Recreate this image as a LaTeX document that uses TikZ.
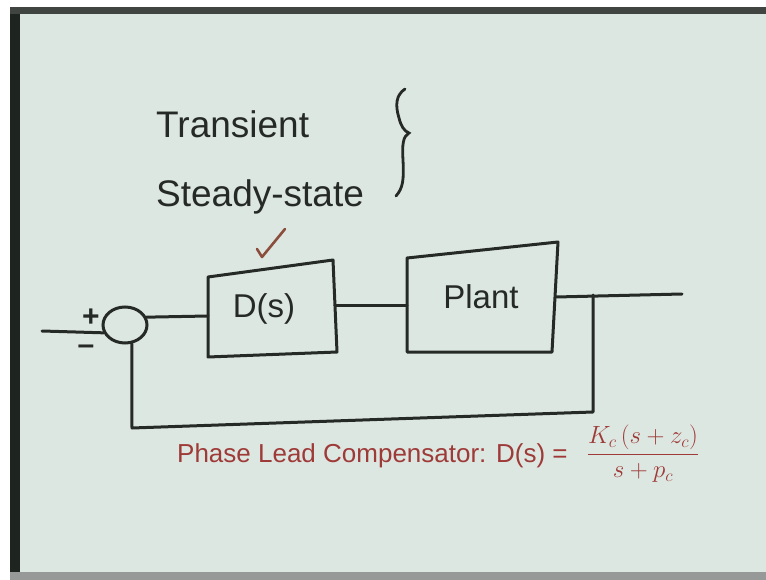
\documentclass[tikz,border=0pt]{standalone}
\usepackage{fontspec}
\setmainfont{Liberation Sans}
\usepackage{amsmath}
\usetikzlibrary{shapes.geometric}
\definecolor{board}{RGB}{221,231,225}
\definecolor{ink}{RGB}{38,42,38}
\definecolor{redink}{RGB}{158,58,56}
\definecolor{frameink}{RGB}{30,36,32}
\definecolor{tickink}{RGB}{140,78,60}
\tikzset{
  wire/.style={draw=ink, line width=3pt, line cap=round, line join=round},
  bigtext/.style={text=ink, inner sep=0pt, font=\fontsize{37}{40}\selectfont},
  boxtext/.style={text=ink, inner sep=0pt, font=\fontsize{33}{38}\selectfont},
  redtext/.style={text=redink, inner sep=0pt, font=\fontsize{26}{30}\selectfont},
  signtext/.style={text=ink, inner sep=0pt, font=\bfseries\fontsize{30}{32}\selectfont}
}
\begin{document}
\begin{tikzpicture}[x=1pt,y=-1pt]
\useasboundingbox (0,0) rectangle (766,580);
% board and frame
\fill[white] (0,0) rectangle (766,580);
\fill[board] (10,7) rectangle (766,575);
\fill[frameink] (10,7) rectangle (20,580);
\fill[frameink!85] (10,7) rectangle (766,14);
\fill[gray!75!board] (10,572) rectangle (766,580);

% headings
\node[bigtext, anchor=base west] (trans) at (156,138) {Transient};
\node[bigtext, anchor=base west] (steady) at (156,207) {Steady-state};
\draw[ink, line width=2.8pt, line cap=round]
  (405,89) .. controls (396,95) and (395,105) .. (399,118)
  .. controls (401,126) and (404,131) .. (409,133)
  .. controls (403,136) and (402,145) .. (403,160)
  .. controls (404,180) and (403,188) .. (396,196);
\draw[tickink, line width=2.6pt, line cap=round, line join=round]
  (257,249) -- (262,257) -- (285,229);

% blocks
\coordinate (D1) at (208,277);
\coordinate (D2) at (333,260);
\coordinate (D3) at (337,352);
\coordinate (D4) at (208,357);
\draw[wire] (D1) -- (D2) -- (D3) -- (D4) -- cycle;
\node[boxtext] (dlabel) at (264,309) {D(s)};

\coordinate (P1) at (407,258);
\coordinate (P2) at (558,242);
\coordinate (P3) at (552,352);
\coordinate (P4) at (407,352);
\draw[wire] (P1) -- (P2) -- (P3) -- (P4) -- cycle;
\node[boxtext] (plabel) at (481,297) {Plant};

% summing junction
\node[draw=ink, line width=3pt, ellipse, minimum width=44pt, minimum height=36pt, inner sep=0pt] (sum) at (125,325) {};
\node[signtext] (plus) at (91,318) {+};
\node[signtext] (minus) at (86,350) {\textendash};

% connectors
\coordinate (in) at (42,331);
\coordinate (Din) at (208,316);
\coordinate (Dout) at (335,305);
\coordinate (Pin) at (407,305);
\coordinate (Pout) at (556,297);
\coordinate (tap) at (593,295);
\coordinate (out) at (682,294);
\coordinate (fbR) at (593,412);
\coordinate (fbL) at (132,428);
\draw[wire] (in) -- (sum.200);
\draw[wire] (sum.20) -- (Din);
\draw[wire] (Dout) -- (Pin);
\draw[wire] (Pout) -- (out);
\draw[wire] (tap) -- (fbR) -- (fbL) -- (sum.-70);

% red annotation
\node[redtext, anchor=base west] (lead) at (177,462) {Phase Lead Compensator: D(s) =};
\node[text=redink, inner sep=0pt, font=\fontsize{26}{30}\selectfont] (frac) at (643,454)
  {$\dfrac{K_c\,(s+z_c)}{s+p_c}$};
\end{tikzpicture}
\end{document}
